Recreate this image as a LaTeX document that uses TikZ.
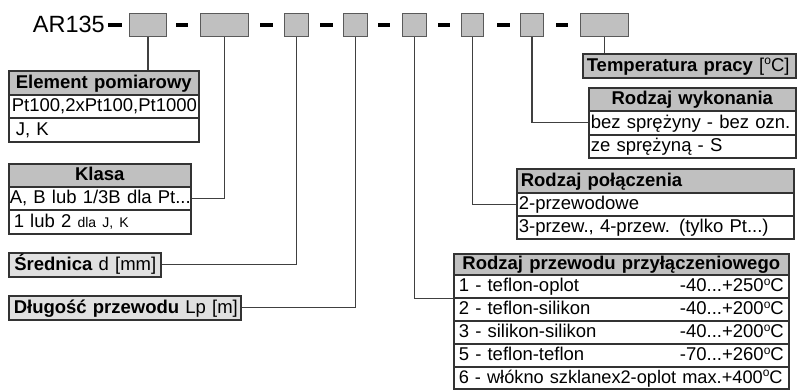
\documentclass[tikz,border=0pt]{standalone}
\usepackage{fontspec}
\setmainfont{Liberation Sans}
\definecolor{hdrc}{HTML}{C0C0C0}
\definecolor{lightc}{HTML}{E0E0E0}
\definecolor{bordc}{HTML}{333333}
\definecolor{connc}{HTML}{404040}
\definecolor{codec}{HTML}{5A5A5A}
\newcommand\mainfs{\fontsize{18.5}{21}\selectfont}
\newcommand\rowlr[2]{\hbox to \linewidth{#1\hfill #2}}
\newcommand\degc{\raisebox{6.5pt}{\fontsize{12}{12}\selectfont o}C}
\tikzset{
  cell/.style={draw=bordc, line width=1.6pt, anchor=north west, inner ysep=0pt,
    inner xsep=3pt, align=left, text height=13.5pt, text depth=3pt, font=\mainfs},
  head/.style={cell, fill=hdrc, font=\mainfs\bfseries, align=center},
  codebox/.style={draw=codec, fill=hdrc, line width=1pt, minimum height=23pt,
    inner sep=0pt, anchor=north west},
  dashbar/.style={fill=black, draw=none, minimum height=3.3pt, inner sep=0pt},
  conn/.style={draw=connc, line width=1.1pt},
}
\begin{document}
\begin{tikzpicture}[x=1pt,y=-1pt]
\useasboundingbox (0,0) rectangle (797,389);
% top code line
\node[anchor=base west, inner sep=0pt, font=\fontsize{23.5}{25}\selectfont] (ar) at (32.7,32.5) {AR135};
\node[codebox, minimum width=37pt] (b1) at (129,13) {};
\node[codebox, minimum width=48pt] (b2) at (200,13) {};
\node[codebox, minimum width=24pt] (b3) at (284,13) {};
\node[codebox, minimum width=24pt] (b4) at (343,13) {};
\node[codebox, minimum width=24pt] (b5) at (402,13) {};
\node[codebox, minimum width=22pt] (b6) at (461,13) {};
\node[codebox, minimum width=23pt] (b7) at (520,13) {};
\node[codebox, minimum width=48pt] (b8) at (580,13) {};
\node[dashbar, minimum width=14pt] (d1) at (114.5,25) {};
\node[dashbar, minimum width=12pt] (d2) at (182,25) {};
\node[dashbar, minimum width=13pt] (d3) at (266.5,25) {};
\node[dashbar, minimum width=13pt] (d4) at (326.5,25) {};
\node[dashbar, minimum width=12pt] (d5) at (384,25) {};
\node[dashbar, minimum width=12pt] (d6) at (444,25) {};
\node[dashbar, minimum width=13pt] (d7) at (503.5,25) {};
\node[dashbar, minimum width=12pt] (d8) at (562,25) {};
% Element pomiarowy
\node[head, minimum width=190pt, text width=184pt, minimum height=24pt] (eph) at (8,70) {\mbox{Element pomiarowy}};
\node[cell, minimum width=190pt, text width=184pt, minimum height=23pt] (ep1) at (8,94) {\mbox{Pt100,2xPt100,Pt1000}};
\node[cell, minimum width=190pt, text width=184pt, minimum height=24pt] (ep2) at (8,117) {\mbox{\hspace*{4pt}J, K}};
% Klasa
\node[head, minimum width=182pt, text width=176pt, minimum height=23pt] (kh) at (8,163) {Klasa};
\node[cell, inner xsep=1pt, minimum width=182pt, text width=180pt, minimum height=23pt] (k1) at (8,186) {\mbox{A, B lub 1/3B dla Pt...}};
\node[cell, minimum width=182pt, text width=176pt, minimum height=24pt] (k2) at (8,209) {\mbox{\hspace*{2pt}1 lub 2 {\fontsize{14}{16}\selectfont dla J, K}}};
% Srednica, Dlugosc
\node[cell, fill=lightc, inner xsep=5.5pt, minimum width=152pt, text width=141pt, minimum height=24pt] (sred) at (8,252) {\mbox{\textbf{Średnica} d [mm]}};
\node[cell, fill=lightc, inner xsep=5pt, minimum width=232pt, text width=222pt, minimum height=24pt] (dl) at (8,295) {\mbox{\textbf{Długość przewodu} Lp [m]}};
% Temperatura
\node[cell, fill=hdrc, inner xsep=4pt, minimum width=213pt, text width=205pt, minimum height=24pt] (temp) at (582,53) {\mbox{\textbf{Temperatura pracy} [\degc]}};
% Rodzaj wykonania
\node[head, minimum width=207pt, text width=203pt, inner xsep=2pt, minimum height=23pt] (wyh) at (588,87) {\mbox{Rodzaj wykonania}};
\node[cell, inner xsep=2pt, minimum width=207pt, text width=203pt, minimum height=24pt] (wy1) at (588,110) {\mbox{bez sprężyny - bez ozn.}};
\node[cell, inner xsep=2pt, minimum width=207pt, text width=203pt, minimum height=23pt] (wy2) at (588,134) {\mbox{ze sprężyną - S}};
% Rodzaj polaczenia
\node[head, align=left, inner xsep=4pt, minimum width=277pt, text width=269pt, minimum height=24pt] (poh) at (516,168) {\mbox{Rodzaj połączenia}};
\node[cell, inner xsep=2pt, minimum width=277pt, text width=273pt, minimum height=23pt] (po1) at (516,192) {\mbox{2-przewodowe}};
\node[cell, inner xsep=2pt, minimum width=277pt, text width=273pt, minimum height=23pt] (po2) at (516,215) {\mbox{3-przew., 4-przew. (tylko Pt...)}};
% Rodzaj przewodu
\node[head, inner xsep=5pt, minimum width=335pt, text width=325pt, minimum height=21pt] (prh) at (453,253) {\mbox{Rodzaj przewodu przyłączeniowego}};
\node[cell, inner xsep=5pt, minimum width=335pt, text width=325pt, minimum height=23pt] (pr1) at (453,274) {\rowlr{1 - teflon-oplot}{-40...+250\degc}};
\node[cell, inner xsep=5pt, minimum width=335pt, text width=325pt, minimum height=23pt] (pr2) at (453,297) {\rowlr{2 - teflon-silikon}{-40...+200\degc}};
\node[cell, inner xsep=5pt, minimum width=335pt, text width=325pt, minimum height=23pt] (pr3) at (453,320) {\rowlr{3 - silikon-silikon}{-40...+200\degc}};
\node[cell, inner xsep=5pt, minimum width=335pt, text width=325pt, minimum height=23pt] (pr4) at (453,343) {\rowlr{5 - teflon-teflon}{-70...+260\degc}};
\node[cell, inner xsep=5pt, minimum width=335pt, text width=325pt, minimum height=22pt, font=\fontsize{18.2}{21}\selectfont] (pr5) at (453,366) {\mbox{6 - włókno szklanex2-oplot max.+400\degc}};
% connectors
\draw[conn] (b1.south) -- (b1.south |- eph.north);
\draw[conn] (b2.south) |- (k1.east);
\draw[conn] (b3.south) |- (sred.east);
\draw[conn] (b4.south) |- (dl.east);
\draw[conn] (b5.south) |- (pr1.south west);
\draw[conn] (b6.south) |- (po1.west);
\draw[conn] (b7.south) |- (wy1.west);
\draw[conn] (b8.south) -- (b8.south |- temp.north);
\end{tikzpicture}
\end{document}
